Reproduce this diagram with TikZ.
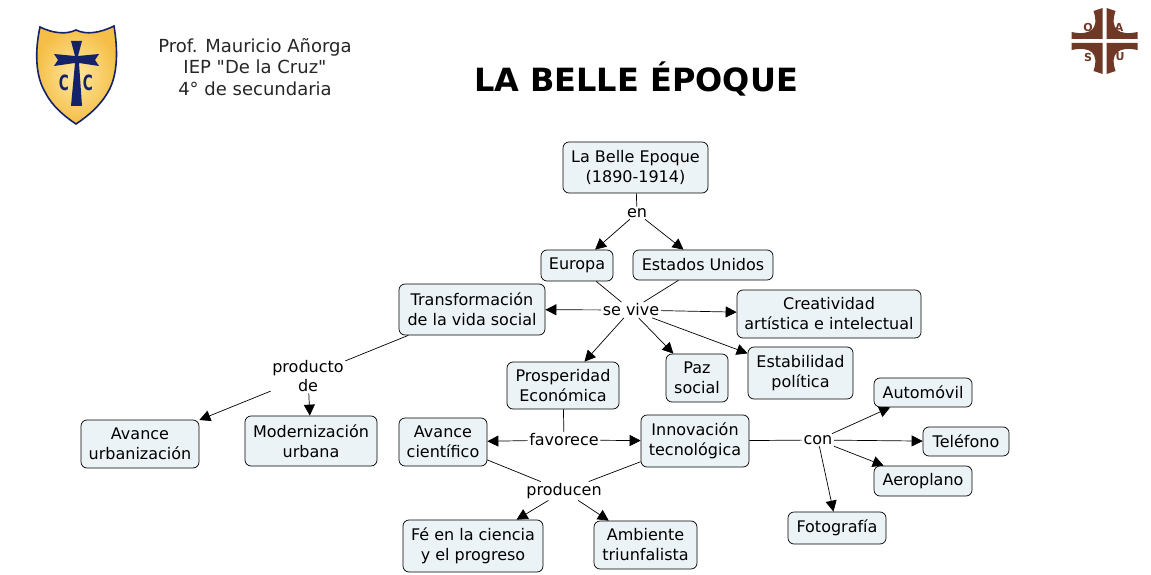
\documentclass[tikz,border=0pt]{standalone}
\usepackage{fontspec}
\setmainfont[Ligatures=TeXOff]{DejaVu Sans}
\usetikzlibrary{arrows.meta}
\definecolor{boxfill}{RGB}{236,243,246}
\definecolor{shieldnavy}{RGB}{20,35,105}
\definecolor{shieldpale}{RGB}{255,232,160}
\definecolor{shieldgold}{RGB}{245,190,70}
\definecolor{oasubrown}{RGB}{112,56,38}
\begin{document}
\begin{tikzpicture}[x=1pt,y=-1pt,
  box/.style={draw=black,fill=boxfill,rounded corners=6pt,line width=0.7pt,
              font=\fontsize{16}{20}\selectfont,inner sep=1pt,align=center},
  lnk/.style={font=\fontsize{16}{19}\selectfont,inner sep=1.5pt,align=center},
  head/.style={font=\fontsize{18}{21.5}\selectfont,align=center,text=black!85},
  arr/.style={-{Triangle[length=11pt,width=11pt]},line width=0.7pt},
  ln/.style={line width=0.7pt},
  cletter/.style={font=\bfseries\fontsize{21}{21}\selectfont,text=shieldnavy,inner sep=0pt},
  oasu/.style={font=\bfseries\fontsize{11}{11}\selectfont,text=oasubrown,inner sep=0pt}
]
\useasboundingbox (0,0) rectangle (1151,575);
% escudo
\shade[inner color=shieldpale,outer color=shieldgold,draw=shieldnavy,line width=1.6pt]
  (40,27) .. controls (52,33) and (66,35) .. (76,30) .. controls (86,35) and (100,33) .. (114,26)
  .. controls (118,50) and (118,75) .. (108,92) .. controls (100,106) and (88,116) .. (76,124)
  .. controls (64,116) and (52,106) .. (45,92) .. controls (35,75) and (35,50) .. (40,27) -- cycle;
\fill[shieldnavy] (71,41) -- (82,41) -- (78,56) -- (99,54) -- (95,60) -- (99,66) -- (79,63)
  -- (82,106) -- (71,106) -- (75,63) -- (54,66) -- (58,60) -- (54,54) -- (75,56) -- cycle;
\node[cletter] (cleft) at (64,83) {\scalebox{0.65}[1]{C}};
\node[cletter] (cright) at (88,83) {\scalebox{0.65}[1]{C}};
% logo derecha
\foreach \sx/\sy in {1/1,-1/1,1/-1,-1/-1}{
  \fill[oasubrown,shift={(1104.5,41)},xscale=\sx,yscale=\sy]
    (-2,-33) -- (-11,-30) .. controls (-5,-12) and (-14,-5) .. (-33,-9) -- (-33,-2) -- (-2,-2) -- cycle;
}
\node[oasu] (loa) at (1088,27) {O};
\node[oasu] (lab) at (1119,27) {A};
\node[oasu] (los) at (1088,57) {S};
\node[oasu] (lou) at (1120,57) {U};
% cabecera
\node[head] (prof) at (255,67) {Prof. Mauricio Añorga\\IEP "De la Cruz"\\4° de secundaria};
\node[font=\bfseries\fontsize{32}{36}\selectfont] (titulo) at (636,79) {LA BELLE ÉPOQUE};
% conceptos
\node[box,minimum width=145pt,minimum height=51pt] (belle) at (635.5,167.5) {La Belle Epoque\\(1890-1914)};
\node[box,minimum width=72pt,minimum height=31pt] (europa) at (577,265.5) {Europa};
\node[box,minimum width=140pt,minimum height=30pt] (eeuu) at (703,265) {Estados Unidos};
\node[box,minimum width=146pt,minimum height=51pt] (transf) at (472,309.5) {Transformación\\de la vida social};
\node[box,minimum width=184pt,minimum height=48pt] (creat) at (829,314) {Creatividad\\artística e intelectual};
\node[box,minimum width=112pt,minimum height=47pt] (prosp) at (563,385.5) {Prosperidad\\Económica};
\node[box,minimum width=62pt,minimum height=48pt] (paz) at (697,378) {Paz\\social};
\node[box,minimum width=105pt,minimum height=52pt] (estab) at (800.5,373) {Estabilidad\\política};
\node[box,minimum width=118pt,minimum height=48pt] (urbaniz) at (140,444) {Avance\\urbanización};
\node[box,minimum width=132pt,minimum height=50pt] (modern) at (311,441) {Modernización\\urbana};
\node[box,minimum width=88pt,minimum height=48pt] (cientif) at (443,442) {Avance\\científico};
\node[box,minimum width=108pt,minimum height=52pt] (innov) at (695,441) {Innovación\\tecnológica};
\node[box,minimum width=98pt,minimum height=29pt] (auto) at (923,392.5) {Automóvil};
\node[box,minimum width=86pt,minimum height=29pt] (telef) at (966,441.5) {Teléfono};
\node[box,minimum width=98pt,minimum height=30pt] (aero) at (923,481) {Aeroplano};
\node[box,minimum width=98pt,minimum height=32pt] (foto) at (837,528) {Fotografía};
\node[box,minimum width=140pt,minimum height=52pt] (fe) at (473,546) {Fé en la ciencia\\y el progreso};
\node[box,minimum width=103pt,minimum height=48pt] (amb) at (645.5,545) {Ambiente\\triunfalista};
% enlaces
\node[lnk] (en) at (637,213) {en};
\node[lnk] (sevive) at (631,310) {se vive};
\node[lnk] (producto) at (308,376) {producto\\de};
\node[lnk] (favorece) at (564,440) {favorece};
\node[lnk] (con) at (818,440) {con};
\node[lnk] (producen) at (564,491) {producen};
\draw[ln] (belle)--(en); \draw[arr] (en)--(europa); \draw[arr] (en)--(eeuu);
\draw[ln] (europa)--(sevive); \draw[ln] (eeuu)--(sevive);
\draw[arr] (sevive)--(transf); \draw[arr] (sevive)--(creat); \draw[arr] (sevive)--(prosp);
\draw[arr] (sevive)--(paz); \draw[arr] (sevive)--(estab);
\draw[ln] (transf)--(producto); \draw[arr] (producto)--(urbaniz); \draw[arr] (producto)--(modern);
\draw[ln] (prosp)--(favorece); \draw[arr] (favorece)--(cientif); \draw[arr] (favorece)--(innov);
\draw[ln] (innov)--(con); \draw[arr] (con)--(auto); \draw[arr] (con)--(telef);
\draw[arr] (con)--(aero); \draw[arr] (con)--(foto);
\draw[ln] (cientif)--(producen); \draw[ln] (innov)--(producen);
\draw[arr] (producen)--(fe); \draw[arr] (producen)--(amb);
\end{tikzpicture}
\end{document}
